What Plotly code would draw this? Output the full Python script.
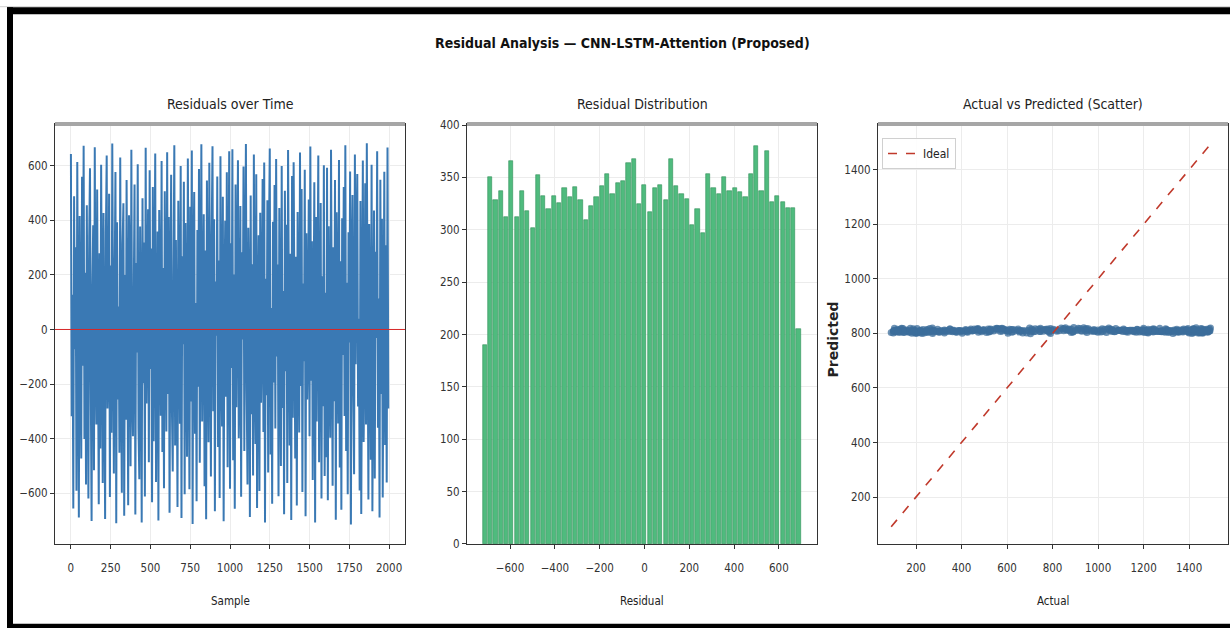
import plotly.graph_objects as go

# ---------------- data (read / estimated from the reference) ----------------
residuals = [
    642, -318, 127, -655, 488, -72, 301, -590, 613, -241, -688, 415, 36, -472, 559, -133, 672, -401, 208, -567,
    455, -27, -619, 333, 590, -204, -701, 148, 381, -515, 667, -96, -348, 512, 71, -640, 279, -436, 603, -183,
    -562, 426, 18, -694, 355, 637, -289, -118, 497, -613, 234, -378, 681, -45, -527, 162, 576, -709, 392, -256,
    84, -451, 629, -167, -598, 311, 462, -682, 199, -330, 547, -12, -643, 418, 260, -501, 658, -221, -391, 116,
    531, -677, 243, -84, 605, -362, -548, 377, 52, -706, 480, -197, 318, -611, 665, -271, -19, 440, -486, 583,
    -145, 296, -632, 521, -409, 173, 644, -558, -63, 359, -699, 437, 94, -316, 617, -448, 225, -581, 506, -9,
    -373, 649, -236, 412, -671, 58, 566, -293, -520, 188, 674, -425, 327, -107, -650, 471, 139, -345, 598, -690,
    268, -54, 541, -603, 390, -179, -466, 626, 3, -585, 449, -264, 655, -712, 214, 503, -382, 97, -629, 364,
    -210, 587, -488, 131, 678, -337, -61, 422, -574, 289, -695, 545, 46, -413, 610, -152, -538, 346, 671, -299,
    403, -665, 176, -23, 560, -430, 252, -617, 634, -89, -355, 486, -702, 120, 398, -246, 575, -504, 29, 652,
    -583, 316, -141, 660, -479, 201, -656, 531, -285, 67, 619, -398, -176, 452, -612, 283, -37, 596, -445, 154,
    679, -226, -567, 372, 103, -686, 490, -310, 239, -534, 640, -121, -419, 568, -653, 11, 345, -591, 427, -268,
    -16, 551, -375, 611, -706, 186, -241, 473, -523, 327, 662, -458, 79, -638, 394, -194, 529, -362, 624, -99,
    238, -610, 445, -68, -500, 598, -287, 141, -676, 508, -153, 383, -562, 657, 32, -425, 277, -697, 562, -323,
    612, -41, -472, 266, -644, 430, 91, -377, 648, -207, 514, -595, 168, -116, 585, -684, 352, -256, -30, 476,
    -391, 670, -188, 323, -551, 56, 539, -706, 412, -337, 227, 637, -486, -79, 463, -619, 195, -281, 601, -536,
    134, -468, 592, -625, 378, -160, -396, 658, -15, -572, 301, -263, 547, -696, 429, 85, -344, 620, -505, 250,
    -660, 407, -93, 521, -317, 674, -445, 171, -603, 356, -48, 578, -714, 214, 492, -230, -530, 640, -127, 341,
    569, -282, 39, -589, 470, -675, 255, 618, -412, -100, 535, -348, 682, -204, -622, 386, 62, -477, 603, -665,
    -152, 435, -545, 284, -31, 652, -360, 113, -688, 548, -236, 405, -615, 19, 577, -423, 308, -560, 666, -289,
]
sample_step = 5
samples = list(range(0, len(residuals) * sample_step, sample_step))

predicted = [
    811, 806, 815, 803, 809, 819, 807, 812, 800, 816, 810, 804, 821, 808, 813, 802, 817, 809, 805, 814,
    808, 818, 801, 812, 806, 815, 810, 803, 819, 807, 811, 799, 814, 809, 822, 805, 812, 808, 816, 804,
    813, 807, 820, 805, 810, 802, 816, 811, 806, 818, 803, 812, 809, 815, 800, 808, 814, 810, 805, 817,
    806, 812, 809, 816, 801, 811, 807, 819, 813, 804, 810, 815, 808, 802, 818, 811, 806, 813, 809, 821,
    815, 803, 810, 807, 814, 809, 820, 805, 812, 808, 817, 801, 811, 806, 813, 816, 804, 810, 807, 812,
    809, 816, 804, 813, 808, 811, 802, 818, 807, 814, 810, 805, 819, 812, 803, 809, 815, 806, 811, 800,
    812, 805, 817, 810, 806, 813, 809, 803, 815, 808, 820, 811, 804, 816, 809, 807, 812, 818, 802, 810,
    807, 814, 809, 801, 812, 806, 816, 810, 813, 805, 808, 819, 811, 803, 815, 809, 806, 812, 817, 804,
    810, 808, 813, 818, 804, 811, 807, 815, 800, 812, 809, 806, 814, 810, 821, 805, 813, 808, 811, 816,
    803, 812, 807, 810, 816, 805, 813, 809, 818, 806, 811, 814, 802, 808, 812, 817, 809, 804, 815, 810,
    814, 806, 811, 803, 809, 817, 810, 812, 805, 815, 808, 801, 813, 819, 807, 811, 816, 809, 806, 812,
    808, 815, 802, 812, 818, 807, 804, 811, 814, 809, 806, 820, 810, 805, 813, 808, 811, 803, 817, 809,
    811, 804, 816, 808, 810, 813, 819, 806, 809, 812, 815, 807, 803, 811, 808, 814, 800, 810, 812, 806,
    816, 809, 807, 814, 805, 811, 808, 817, 812, 803, 810, 813, 806, 809, 818, 804, 812, 815, 808, 811,
    805, 813, 810, 806, 819, 808, 812, 804, 815, 810, 807, 811, 814, 802, 809, 816, 806, 813, 810, 807,
    812, 807, 814, 810, 803, 816, 809, 811, 806, 813, 820, 805, 810, 815, 808, 812, 804, 809, 817, 811,
    809, 816, 805, 812, 808, 810, 814, 801, 811, 807, 813, 818, 806, 810, 812, 805, 815, 809, 808, 813,
    804, 811, 817, 809, 814, 806, 812, 810, 803, 815, 808, 811, 819, 807, 813, 809, 805, 816, 810, 812,
    813, 808, 810, 805, 811, 818, 807, 814, 809, 812, 804, 816, 810, 808, 806, 813, 811, 802, 815, 809,
    810, 814, 806, 812, 809, 803, 816, 811, 808, 813, 807, 815, 805, 810, 818, 809, 812, 806, 811, 814,
]
actual = [p + r for p, r in zip(predicted, residuals)]

hist_counts = [190, 350, 328, 337, 312, 366, 312, 337, 318, 302, 352, 332, 320, 332, 326, 340, 331, 341, 328, 309,
               323, 331, 342, 353, 334, 345, 347, 364, 368, 325, 343, 317, 340, 343, 328, 368, 342, 334, 329, 305,
               320, 297, 353, 340, 334, 350, 337, 340, 336, 331, 353, 380, 337, 375, 327, 332, 327, 321, 321, 205]
hist_bin_start = -724.6
hist_bin_width = 23.74
hist_centers = [hist_bin_start + hist_bin_width * (i + 0.5) for i in range(len(hist_counts))]

x_ticks_time = [0, 250, 500, 750, 1000, 1250, 1500, 1750, 2000]
y_ticks_time = [-600, -400, -200, 0, 200, 400, 600]
x_ticks_hist = [-600, -400, -200, 0, 200, 400, 600]
x_ticklabels_hist = ["\u2212600", "\u2212400", "\u2212200", "0", "200", "400", "600"]
y_ticks_hist = [0, 50, 100, 150, 200, 250, 300, 350, 400]
x_ticks_sc = [200, 400, 600, 800, 1000, 1200, 1400]
y_ticks_sc = [200, 400, 600, 800, 1000, 1200, 1400]

# ---------------- figure ----------------
W, H = 1230, 636
FONT = "DejaVu Sans Condensed, DejaVu Sans, sans-serif"
# the capture maps page y -> 0.982*y + 4.7 ; positions below are given in picture pixels
V_SCALE, V_OFF = 0.982, 4.7


def px(x):
    return x / W


def py(y):
    fy = max(0.0, (y - V_OFF) / V_SCALE)
    return 1 - fy / H


dom_x = [(px(55), px(405)), (px(467), px(817)), (px(878), px(1228))]
dom_y = (py(544), py(123))

fig = go.Figure()

fig.add_trace(go.Scatter(x=samples, y=residuals, mode="lines",
                         line=dict(color="#3a79b4", width=2.0),
                         showlegend=False, xaxis="x", yaxis="y"))
fig.add_trace(go.Scatter(x=[-100, 2100], y=[0, 0], mode="lines",
                         line=dict(color="#d62728", width=1),
                         showlegend=False, xaxis="x", yaxis="y"))

fig.add_trace(go.Bar(x=hist_centers, y=hist_counts, width=hist_bin_width * 0.8,
                     marker=dict(color="#4fbb7e", line=dict(color="#2f8f58", width=0.6)),
                     showlegend=False, xaxis="x2", yaxis="y2"))

fig.add_trace(go.Scatter(x=actual, y=predicted, mode="markers",
                         marker=dict(color="rgba(60,110,155,0.75)", size=7, line=dict(width=0)),
                         showlegend=False, xaxis="x3", yaxis="y3"))
fig.add_trace(go.Scatter(x=[min(actual), max(actual)], y=[min(actual), max(actual)], mode="lines",
                         name="Ideal", line=dict(color="#c0392b", width=1.6, dash="dash"),
                         showlegend=True, xaxis="x3", yaxis="y3"))

axis_common = dict(showline=True, mirror=True, linecolor="#333333", linewidth=1,
                   ticks="outside", ticklen=4, tickcolor="#333333",
                   showgrid=True, gridcolor="#ececec", gridwidth=1, zeroline=False,
                   tickfont=dict(family=FONT, size=11.5, color="#333333"))

fig.update_layout(
    width=W, height=H,
    margin=dict(l=0, r=0, t=0, b=0),
    paper_bgcolor="white", plot_bgcolor="white",
    font=dict(family=FONT, color="#222222"),
    xaxis=dict(domain=dom_x[0], anchor="y", range=[-100, 2100], tickvals=x_ticks_time,
               ticklabelstandoff=9, **axis_common),
    yaxis=dict(domain=dom_y, anchor="x", range=[-785, 752], tickvals=y_ticks_time, **axis_common),
    xaxis2=dict(domain=dom_x[1], anchor="y2", range=[-792, 770], tickvals=x_ticks_hist,
                ticktext=x_ticklabels_hist, ticklabelstandoff=9, **axis_common),
    yaxis2=dict(domain=dom_y, anchor="x2", range=[0, 401], tickvals=y_ticks_hist, **axis_common),
    xaxis3=dict(domain=dom_x[2], anchor="y3", range=[33, 1571], tickvals=x_ticks_sc,
                ticklabelstandoff=9, **axis_common),
    yaxis3=dict(domain=dom_y, anchor="x3", range=[28, 1568], tickvals=y_ticks_sc, **axis_common),
    bargap=0,
    legend=dict(x=px(882), y=py(137), xanchor="left", yanchor="top",
                bgcolor="rgba(255,255,255,0.9)", bordercolor="#d0d0d0", borderwidth=1,
                font=dict(family=FONT, size=12, color="#222222")),
)

ann = []
ann.append(dict(text="<b>Residual Analysis \u2014 CNN-LSTM-Attention (Proposed)</b>", x=px(622), y=py(42),
                xref="paper", yref="paper", showarrow=False, xanchor="center", yanchor="middle",
                font=dict(family=FONT, size=14, color="#111111")))
titles = ["Residuals over Time", "Residual Distribution", "Actual vs Predicted (Scatter)"]
for (x0, x1), t in zip(dom_x, titles):
    ann.append(dict(text=t, x=(x0 + x1) / 2, y=py(103), xref="paper", yref="paper", showarrow=False,
                    xanchor="center", yanchor="middle",
                    font=dict(family=FONT, size=14, color="#222222")))
xlabels = ["Sample", "Residual", "Actual"]
for (x0, x1), t in zip(dom_x, xlabels):
    ann.append(dict(text=t, x=(x0 + x1) / 2, y=py(601), xref="paper", yref="paper", showarrow=False,
                    xanchor="center", yanchor="middle",
                    font=dict(family=FONT, size=11.5, color="#222222")))
ann.append(dict(text="<b>Predicted</b>", x=px(833), y=py(339), xref="paper", yref="paper", showarrow=False,
                xanchor="center", yanchor="middle", textangle=-90,
                font=dict(family="DejaVu Sans", size=14, color="#222222")))
fig.update_layout(annotations=ann)

shapes = []
# thick grey top spines
for x0, x1 in dom_x:
    shapes.append(dict(type="line", xref="paper", yref="paper", x0=x0, x1=x1, y0=py(123), y1=py(123),
                       line=dict(color="#a6a6a6", width=4), layer="above"))
# image frame
shapes.append(dict(type="rect", xref="paper", yref="paper", x0=0, x1=1, y0=py(6), y1=1,
                   fillcolor="#d9d9d9", line=dict(width=0), layer="above"))
shapes.append(dict(type="rect", xref="paper", yref="paper", x0=px(7), x1=1, y0=py(13), y1=py(6),
                   fillcolor="black", line=dict(width=0), layer="above"))
shapes.append(dict(type="rect", xref="paper", yref="paper", x0=px(7), x1=px(13), y0=0, y1=py(6),
                   fillcolor="black", line=dict(width=0), layer="above"))
shapes.append(dict(type="rect", xref="paper", yref="paper", x0=px(7), x1=1, y0=0, y1=py(624),
                   fillcolor="black", line=dict(width=0), layer="above"))
fig.update_layout(shapes=shapes)

fig.write_html(
    "out.html",
    config={"displayModeBar": False},
    post_script="document.body.style.margin='0';document.body.style.overflow='hidden';"
                "document.documentElement.style.overflow='hidden';",
)
